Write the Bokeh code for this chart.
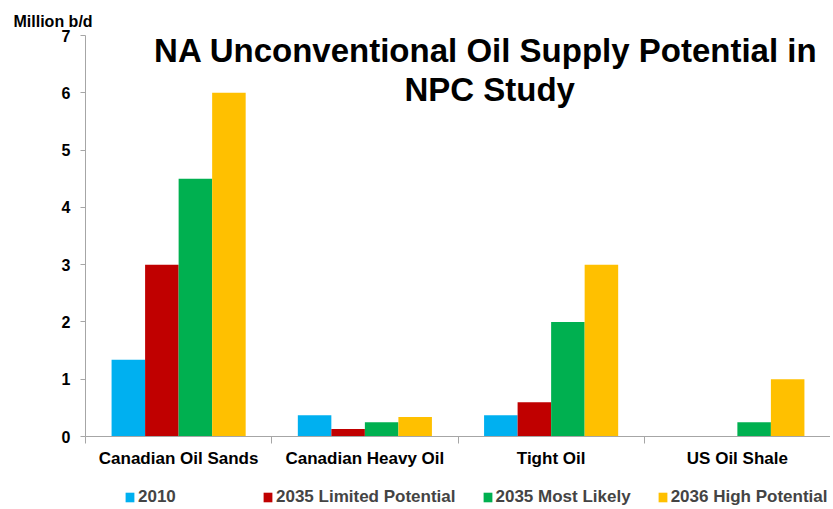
from bokeh.plotting import figure
from bokeh.models import (ColumnDataSource, Range1d, FixedTicker, CustomJSTickFormatter,
                          Label, Legend, LegendItem)
from bokeh.transform import dodge
from bokeh.embed import file_html
from bokeh.resources import INLINE

categories = ["Canadian Oil Sands", "Canadian Heavy Oil", "Tight Oil", "US Oil Shale"]
series_names = ["2010", "2035 Limited Potential", "2035 Most Likely", "2036 High Potential"]
s2010 = [1.34, 0.37, 0.37, 0.0]
s2035_limited = [3.0, 0.13, 0.60, 0.0]
s2035_likely = [4.5, 0.25, 2.0, 0.25]
s2036_high = [6.0, 0.34, 3.0, 1.0]
colors = ["#00B0F0", "#C00000", "#00B050", "#FFC000"]
y_ticks = [0, 1, 2, 3, 4, 5, 6, 7]
title_lines = ["NA Unconventional Oil Supply Potential in", "NPC Study"]
unit_label = "Million b/d"

FONT = "Liberation Sans"
GRAY = "#A6A6A6"

W, H = 830, 508
# pixel geometry of the axes inside the drawing area
X0, X1 = 85, 830      # x = 0 .. 4
Y0, Y7 = 436, 35      # y = 0 .. 7
n = len(categories)
xu = (X1 - X0) / n
yu = (Y0 - Y7) / 7

src = ColumnDataSource(dict(
    x=[i + 0.5 for i in range(n)],
    s2010=s2010, s2035_limited=s2035_limited,
    s2035_likely=s2035_likely, s2036_high=s2036_high,
))

p = figure(width=W, height=H,
           x_range=Range1d(-X0 / xu, n + (W - X1) / xu),
           y_range=Range1d(-(H - Y0) / yu, 7 + Y7 / yu),
           output_backend="svg", toolbar_location=None,
           min_border_left=0, min_border_right=0, min_border_top=0, min_border_bottom=0)
p.title = None
p.outline_line_color = None
p.xgrid.visible = False
p.ygrid.visible = False

bw = 0.18
offsets = [-1.5 * bw, -0.5 * bw, 0.5 * bw, 1.5 * bw]
fields = ["s2010", "s2035_limited", "s2035_likely", "s2036_high"]
rends = []
for f, off, c in zip(fields, offsets, colors):
    r = p.vbar(x=dodge("x", off, range=p.x_range), top=f, width=bw, source=src,
               fill_color=c, line_color=None)
    rends.append(r)

# x axis (placed at y = 0)
xa = p.xaxis[0]
xa.fixed_location = 0
xa.bounds = (0, n)
xa.ticker = FixedTicker(ticks=[i + 0.5 for i in range(n)], minor_ticks=list(range(n + 1)))
xa.formatter = CustomJSTickFormatter(args=dict(names=categories),
                                     code="return names[Math.floor(tick)] || '';")
xa.major_tick_line_color = None
xa.major_tick_out = 0
xa.major_tick_in = 0
xa.minor_tick_line_color = GRAY
xa.minor_tick_out = 7
xa.minor_tick_in = 0
xa.axis_line_color = GRAY
xa.major_label_standoff = 5
xa.major_label_text_font = FONT
xa.major_label_text_font_style = "bold"
xa.major_label_text_font_size = "17px"
xa.major_label_text_color = "black"

# y axis (placed at x = 0)
ya = p.yaxis[0]
ya.fixed_location = 0
ya.bounds = (0, 7)
ya.ticker = FixedTicker(ticks=y_ticks)
ya.minor_tick_line_color = None
ya.major_tick_line_color = GRAY
ya.major_tick_out = 5
ya.major_tick_in = 0
ya.axis_line_color = GRAY
ya.major_label_standoff = 10
ya.major_label_text_font = FONT
ya.major_label_text_font_style = "bold"
ya.major_label_text_font_size = "16px"
ya.major_label_text_color = "black"

# unit label
p.add_layout(Label(x=(13 - X0) / xu, y=7 + (Y7 - 21) / yu, text=unit_label,
                   text_align="left", text_baseline="alphabetic", text_font=FONT,
                   text_font_style="bold", text_font_size="16px", text_color="black"))

# chart title
p.add_layout(Label(x=2.15, y=7 - (50 - Y7) / yu, text=title_lines[0],
                   text_align="center", text_baseline="alphabetic", text_font=FONT,
                   text_font_style="bold", text_font_size="33px", text_color="black"))
p.add_layout(Label(x=2.17, y=7 - (89 - Y7) / yu, text=title_lines[1],
                   text_align="center", text_baseline="alphabetic", text_font=FONT,
                   text_font_style="bold", text_font_size="33px", text_color="black"))

legend = Legend(items=[LegendItem(label=s, renderers=[r]) for s, r in zip(series_names, rends)],
                location=(124, 1), orientation="horizontal",
                glyph_width=11, glyph_height=12, label_standoff=3, spacing=26, label_width=98,
                padding=0, margin=0, border_line_color=None, background_fill_alpha=0,
                label_text_font=FONT, label_text_font_style="bold",
                label_text_font_size="17px", label_height=20)
p.add_layout(legend)

open("out.html", "w").write(file_html(p, INLINE))
